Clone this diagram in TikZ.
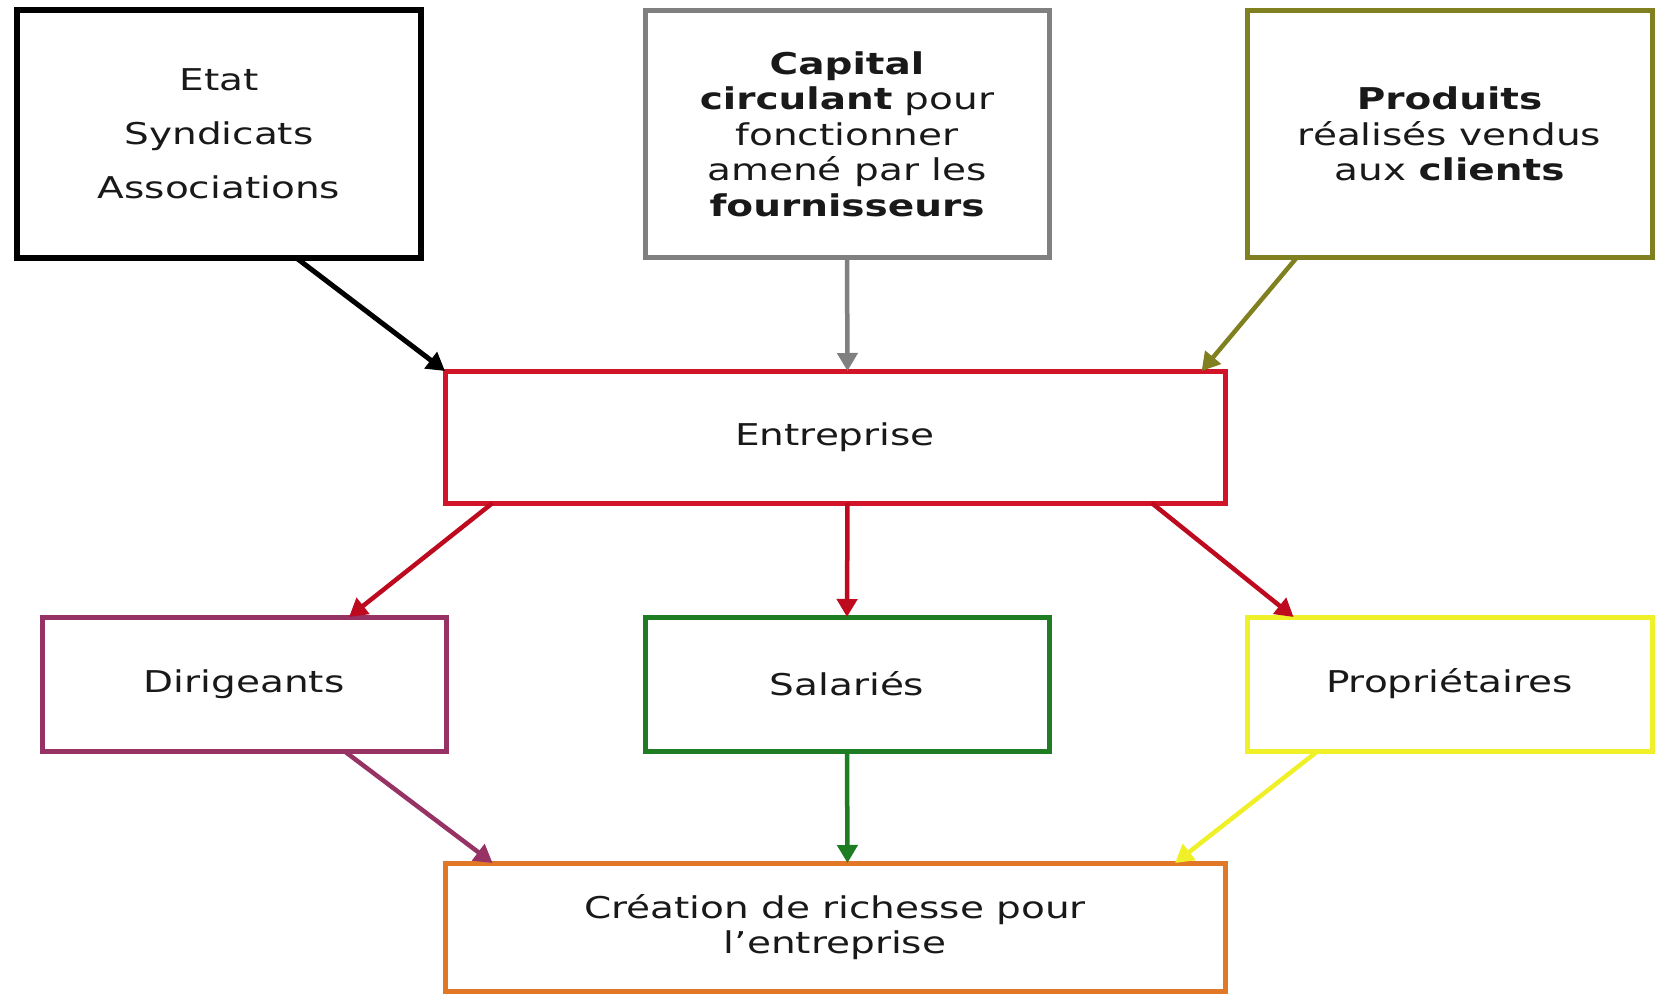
\documentclass[tikz,border=0pt]{standalone}
\usepackage{fontspec}
\setmainfont{DejaVu Sans}[FakeStretch=1.3]
\usetikzlibrary{arrows.meta,calc}

\definecolor{grisc}{RGB}{128,128,128}
\definecolor{olivec}{RGB}{128,128,32}
\definecolor{rougec}{RGB}{210,20,40}
\definecolor{rougef}{RGB}{190,10,30}
\definecolor{violetc}{RGB}{150,50,100}
\definecolor{vertc}{RGB}{30,125,35}
\definecolor{jaunec}{RGB}{240,240,40}
\definecolor{orangec}{RGB}{225,120,40}

\tikzset{
  boite/.style={draw, rectangle, line width=5pt, fill=white, outer sep=0pt,
    inner sep=0pt, align=center, text=black!90,
    font=\fontsize{30}{35.5}\selectfont},
  petite/.style={boite, minimum width=404pt, minimum height=134pt},
  grande/.style={boite, minimum width=780pt},
  fleche/.style={line width=4.5pt, -{Triangle[length=18pt,width=20pt]}},
}

\begin{document}
\begin{tikzpicture}[x=1pt,y=-1pt]
  \useasboundingbox (0,0) rectangle (1660,995);

  % sources
  \node[boite, draw=black, line width=6pt, minimum width=404pt, minimum height=247pt,
        font=\fontsize{30}{54}\selectfont] (etat) at (219,134)
        {Etat\\Syndicats\\Associations};
  \node[boite, draw=grisc, minimum width=404pt, minimum height=247pt] (capital) at (847,134)
        {\textbf{Capital}\\\textbf{circulant} pour\\fonctionner\\amené par les\\\textbf{fournisseurs}};
  \node[boite, draw=olivec, minimum width=405pt, minimum height=247pt] (produits) at (1449.5,134)
        {\textbf{Produits}\\réalisés vendus\\aux \textbf{clients}};

  % entreprise
  \node[grande, draw=rougec, minimum height=132pt] (entreprise) at (835,437) {Entreprise};

  % partenaires
  \node[petite, draw=violetc] (dirigeants) at (244,684) {Dirigeants};
  \node[petite, draw=vertc] (salaries) at (847,684) {Salariés};
  \node[petite, draw=jaunec, minimum width=405pt] (proprietaires) at (1449.5,684) {Propriétaires};

  % resultat
  \node[grande, draw=orangec, minimum height=128pt] (creation) at (835,927)
        {Création de richesse pour\\l’entreprise};

  % flux entrants
  \draw[fleche, black, line width=5pt] ($(etat.south west)!0.69!(etat.south east)$) -- (entreprise.north west);
  \draw[fleche, grisc] (capital.south) -- ($(entreprise.north west)!0.516!(entreprise.north east)$);
  \draw[fleche, olivec] ($(produits.south west)!0.123!(produits.south east)$) -- ($(entreprise.north west)!0.97!(entreprise.north east)$);

  % repartition
  \draw[fleche, rougef] ($(entreprise.south west)!0.061!(entreprise.south east)$) -- ($(dirigeants.north west)!0.76!(dirigeants.north east)$);
  \draw[fleche, rougef] ($(entreprise.south west)!0.516!(entreprise.south east)$) -- (salaries.north);
  \draw[fleche, rougef] ($(entreprise.south west)!0.906!(entreprise.south east)$) -- ($(proprietaires.north west)!0.115!(proprietaires.north east)$);

  % creation de richesse
  \draw[fleche, violetc] ($(dirigeants.south west)!0.748!(dirigeants.south east)$) -- ($(creation.north west)!0.061!(creation.north east)$);
  \draw[fleche, vertc] (salaries.south) -- ($(creation.north west)!0.516!(creation.north east)$);
  \draw[fleche, jaunec] ($(proprietaires.south west)!0.175!(proprietaires.south east)$) -- ($(creation.north west)!0.936!(creation.north east)$);
\end{tikzpicture}
\end{document}
